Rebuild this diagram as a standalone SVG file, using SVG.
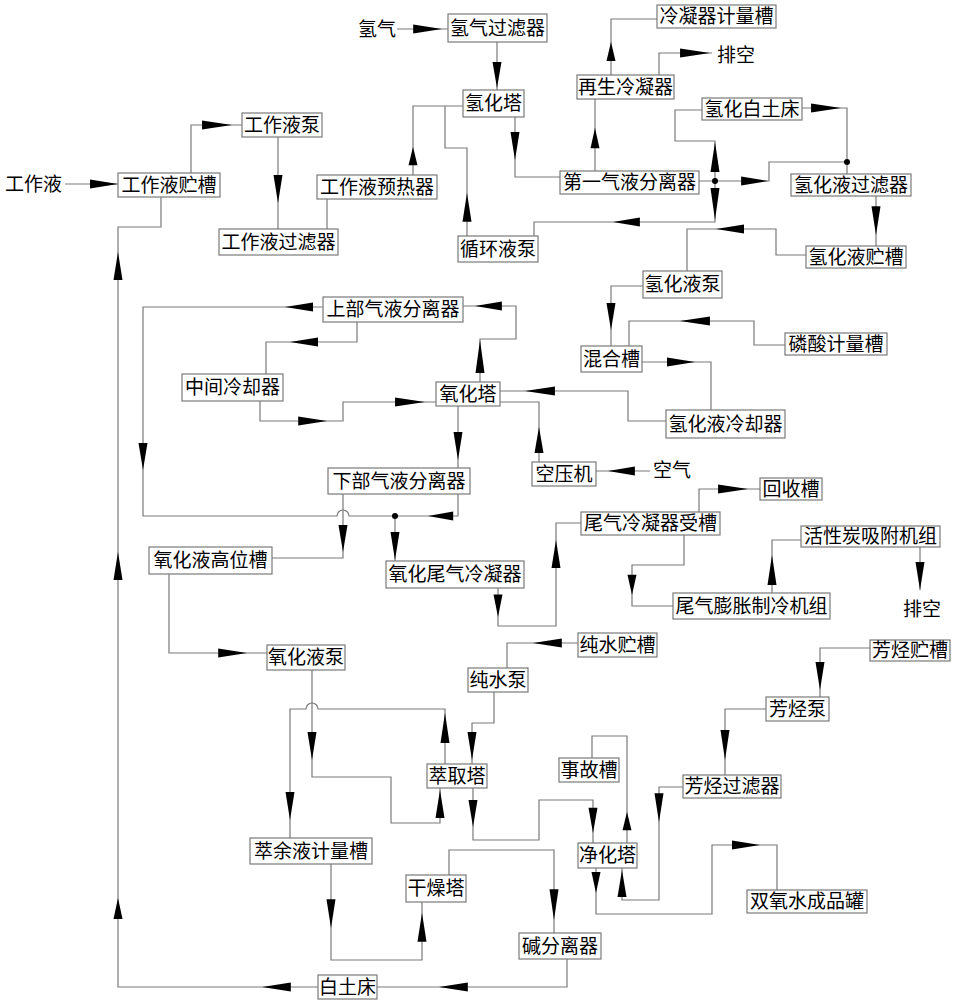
<svg xmlns="http://www.w3.org/2000/svg" xmlns:xlink="http://www.w3.org/1999/xlink" width="958" height="1000" viewBox="0 0 958 1000">
<style>
.b rect{fill:#fff;stroke:#7a7a7a;stroke-width:1.2}
.b text,.t{font-family:"Noto Sans CJK SC","Noto Sans CJK JP",sans-serif;font-size:19px;fill:#000}
.b text{text-anchor:middle}
#conn polyline,#conn path{fill:none;stroke:#7a7a7a;stroke-width:1.2}
.ah{fill:#000}
.dot{fill:#000}
</style>
<defs>
<path id="ah" d="M0,0 L-28,-4.5 L-28,4.5 Z"/>
</defs>
<rect width="958" height="1000" fill="#fff"/>
<g id="conn">
<polyline points="65,184 118,184"/>
<polyline points="191,173 191,125 242,125"/>
<polyline points="278,137 278,229"/>
<polyline points="327,229 327,199"/>
<polyline points="413,175 413,106 463,106"/>
<polyline points="467,236 467,148 445,148 445,106"/>
<polyline points="397,29 448,29"/>
<polyline points="497,42 497,90"/>
<polyline points="515,117 515,177 560,177"/>
<polyline points="595,171 595,99"/>
<polyline points="611,75 611,19 657,19"/>
<polyline points="659,75 659,53 712,53"/>
<polyline points="699,181 769,181 769,162 847,162 847,174"/>
<polyline points="715,181 715,141 675,141 675,110 702,110"/>
<polyline points="802,108 847,108 847,162"/>
<polyline points="715,181 715,222 534,222 534,236"/>
<polyline points="876,196 876,246"/>
<polyline points="806,255 776,255 776,229 687,229 687,271"/>
<polyline points="643,286 611,286 611,346"/>
<polyline points="785,345 754,345 754,321 629,321 629,346"/>
<polyline points="642,362 711,362 711,410"/>
<polyline points="666,421 628,421 628,391 500,391"/>
<polyline points="650,471 596,471"/>
<polyline points="539,462 539,402 500,402"/>
<polyline points="480,382 480,339 516,339 516,306 463,306"/>
<path d="M323,307 H143 V516 H337 A6,6 0 0 1 349,516 H395"/>
<polyline points="458,494 458,516 395,516"/>
<polyline points="395,516 395,561"/>
<polyline points="357,322 357,342 266,342 266,374"/>
<polyline points="260,401 260,421 343,421 343,402 436,402"/>
<polyline points="458,406 458,468"/>
<polyline points="343,494 343,558 272,558"/>
<polyline points="169,574 169,653 267,653"/>
<polyline points="498,588 498,626 556,626 556,523 581,523"/>
<polyline points="699,512 699,489 760,489"/>
<polyline points="684,535 684,565 632,565 632,606 673,606"/>
<polyline points="772,593 772,540 801,540"/>
<polyline points="920,547 920,590"/>
<polyline points="870,648 820,648 820,697"/>
<polyline points="766,709 725,709 725,775"/>
<polyline points="683,787 659,787 659,900 622,900 622,868"/>
<polyline points="596,868 596,914 712,914 712,845 777,845 777,890"/>
<polyline points="627,843 627,736 592,736 592,758"/>
<polyline points="578,643 507,643 507,668"/>
<polyline points="494,692 494,723 472,723 472,764"/>
<polyline points="312,670 312,777 391,777 391,823 440,823 440,788"/>
<path d="M445,764 V709 H318 A6,6 0 0 0 306,709 H290 V838"/>
<polyline points="473,788 473,840 539,840 539,800 593,800 593,843"/>
<polyline points="331,864 331,960 422,960 422,902"/>
<polyline points="449,875 449,850 554,850 554,933"/>
<polyline points="567,959 567,987 377,987"/>
<polyline points="318,987 118,987 118,227 161,227 161,197"/>
<circle class="dot" cx="715" cy="181" r="3"/>
<circle class="dot" cx="847" cy="162" r="3"/>
<circle class="dot" cx="395" cy="516" r="3"/>
<g class="ah">
<use xlink:href="#ah" transform="translate(118,184)"/>
<use xlink:href="#ah" transform="translate(232,125) scale(1.07,1)"/>
<use xlink:href="#ah" transform="translate(278,203) rotate(90)"/>
<use xlink:href="#ah" transform="translate(413,147) rotate(-90) scale(0.65,1)"/>
<use xlink:href="#ah" transform="translate(467,193) rotate(-90) scale(1.03,1)"/>
<use xlink:href="#ah" transform="translate(442,29) scale(1.03,1)"/>
<use xlink:href="#ah" transform="translate(497,88) rotate(90) scale(0.93,1)"/>
<use xlink:href="#ah" transform="translate(515,160) rotate(90)"/>
<use xlink:href="#ah" transform="translate(595,128) rotate(-90) scale(0.72,1)"/>
<use xlink:href="#ah" transform="translate(611,42) rotate(-90) scale(0.68,1)"/>
<use xlink:href="#ah" transform="translate(710,53) scale(1.07,1)"/>
<use xlink:href="#ah" transform="translate(768,181) scale(0.96,1)"/>
<use xlink:href="#ah" transform="translate(715,142) rotate(-90) scale(1.07,1)"/>
<use xlink:href="#ah" transform="translate(841,108) scale(1.07,1)"/>
<use xlink:href="#ah" transform="translate(715,220) rotate(90) scale(1.14,1)"/>
<use xlink:href="#ah" transform="translate(613,222) rotate(180) scale(0.96,1)"/>
<use xlink:href="#ah" transform="translate(876,235) rotate(90) scale(1.03,1)"/>
<use xlink:href="#ah" transform="translate(716,229) rotate(180)"/>
<use xlink:href="#ah" transform="translate(611,330) rotate(90) scale(0.96,1)"/>
<use xlink:href="#ah" transform="translate(680,321) rotate(180) scale(1.07,1)"/>
<use xlink:href="#ah" transform="translate(695,362)"/>
<use xlink:href="#ah" transform="translate(525,391) rotate(180) scale(1.07,1)"/>
<use xlink:href="#ah" transform="translate(608,471) rotate(180) scale(0.96,1)"/>
<use xlink:href="#ah" transform="translate(539,427) rotate(-90) scale(0.93,1)"/>
<use xlink:href="#ah" transform="translate(480,340) rotate(-90) scale(1.18,1)"/>
<use xlink:href="#ah" transform="translate(475,306) rotate(180) scale(0.96,1)"/>
<use xlink:href="#ah" transform="translate(285,307) rotate(180)"/>
<use xlink:href="#ah" transform="translate(143,470) rotate(90) scale(0.96,1)"/>
<use xlink:href="#ah" transform="translate(428,516) rotate(180) scale(0.9,1)"/>
<use xlink:href="#ah" transform="translate(395,560) rotate(90)"/>
<use xlink:href="#ah" transform="translate(290,342) rotate(180)"/>
<use xlink:href="#ah" transform="translate(327,421) scale(1.03,1)"/>
<use xlink:href="#ah" transform="translate(425,402) scale(1.07,1)"/>
<use xlink:href="#ah" transform="translate(458,460) rotate(90)"/>
<use xlink:href="#ah" transform="translate(343,552) rotate(90) scale(0.96,1)"/>
<use xlink:href="#ah" transform="translate(247,653) scale(1.03,1)"/>
<use xlink:href="#ah" transform="translate(498,617) rotate(90) scale(0.8,1)"/>
<use xlink:href="#ah" transform="translate(556,540) rotate(-90)"/>
<use xlink:href="#ah" transform="translate(748,489) scale(1.07,1)"/>
<use xlink:href="#ah" transform="translate(632,595) rotate(90) scale(0.72,1)"/>
<use xlink:href="#ah" transform="translate(772,555) rotate(-90) scale(1.07,1)"/>
<use xlink:href="#ah" transform="translate(920,590) rotate(90)"/>
<use xlink:href="#ah" transform="translate(820,690) rotate(90)"/>
<use xlink:href="#ah" transform="translate(725,760) rotate(90) scale(1.07,1)"/>
<use xlink:href="#ah" transform="translate(659,822) rotate(90) scale(1.03,1)"/>
<use xlink:href="#ah" transform="translate(622,870) rotate(-90) scale(0.96,1)"/>
<use xlink:href="#ah" transform="translate(596,893) rotate(90) scale(0.75,1)"/>
<use xlink:href="#ah" transform="translate(760,845)"/>
<use xlink:href="#ah" transform="translate(627,812) rotate(-90) scale(0.65,1)"/>
<use xlink:href="#ah" transform="translate(533,643) rotate(180) scale(1.03,1)"/>
<use xlink:href="#ah" transform="translate(472,760) rotate(90)"/>
<use xlink:href="#ah" transform="translate(312,760) rotate(90)"/>
<use xlink:href="#ah" transform="translate(440,790) rotate(-90)"/>
<use xlink:href="#ah" transform="translate(445,713) rotate(-90) scale(1.07,1)"/>
<use xlink:href="#ah" transform="translate(290,820) rotate(90)"/>
<use xlink:href="#ah" transform="translate(473,827) rotate(90) scale(0.96,1)"/>
<use xlink:href="#ah" transform="translate(593,833) rotate(90) scale(0.9,1)"/>
<use xlink:href="#ah" transform="translate(331,928) rotate(90) scale(1.03,1)"/>
<use xlink:href="#ah" transform="translate(422,913) rotate(-90) scale(1.03,1)"/>
<use xlink:href="#ah" transform="translate(554,920) rotate(90) scale(1.1,1)"/>
<use xlink:href="#ah" transform="translate(439,987) rotate(180) scale(1.03,1)"/>
<use xlink:href="#ah" transform="translate(262,987) rotate(180) scale(1.03,1)"/>
<use xlink:href="#ah" transform="translate(118,898) rotate(-90) scale(0.75,1)"/>
<use xlink:href="#ah" transform="translate(118,552) rotate(-90)"/>
<use xlink:href="#ah" transform="translate(118,252) rotate(-90)"/>
</g>
</g>
<text class="t" x="5" y="191">工作液</text>
<text class="t" x="358" y="36">氢气</text>
<text class="t" x="717" y="62">排空</text>
<text class="t" x="653" y="477">空气</text>
<text class="t" x="903" y="616">排空</text>
<g id="n1" class="b"><rect x="118" y="173" width="102" height="24"/><text x="169" y="192">工作液贮槽</text></g>
<g id="n2" class="b"><rect x="242" y="113" width="80" height="24"/><text x="282" y="132">工作液泵</text></g>
<g id="n3" class="b"><rect x="219" y="229" width="119" height="26"/><text x="278.5" y="249">工作液过滤器</text></g>
<g id="n4" class="b"><rect x="317" y="175" width="120" height="24"/><text x="377" y="194">工作液预热器</text></g>
<g id="n5" class="b"><rect x="448" y="14" width="99" height="28"/><text x="497.5" y="35">氢气过滤器</text></g>
<g id="n6" class="b"><rect x="463" y="90" width="61" height="27"/><text x="493.5" y="110">氢化塔</text></g>
<g id="n7" class="b"><rect x="458" y="236" width="80" height="26"/><text x="498" y="256">循环液泵</text></g>
<g id="n8" class="b"><rect x="560" y="171" width="139" height="23"/><text x="629.5" y="189">第一气液分离器</text></g>
<g id="n9" class="b"><rect x="577" y="75" width="97" height="24"/><text x="625.5" y="94">再生冷凝器</text></g>
<g id="n10" class="b"><rect x="657" y="5" width="119" height="23"/><text x="716.5" y="23">冷凝器计量槽</text></g>
<g id="n11" class="b"><rect x="702" y="98" width="100" height="22"/><text x="752" y="116">氢化白土床</text></g>
<g id="n12" class="b"><rect x="791" y="174" width="120" height="22"/><text x="851" y="192">氢化液过滤器</text></g>
<g id="n13" class="b"><rect x="806" y="246" width="100" height="22"/><text x="856" y="264">氢化液贮槽</text></g>
<g id="n14" class="b"><rect x="643" y="271" width="79" height="27"/><text x="682.5" y="291">氢化液泵</text></g>
<g id="n15" class="b"><rect x="581" y="346" width="61" height="26"/><text x="611.5" y="366">混合槽</text></g>
<g id="n16" class="b"><rect x="785" y="333" width="102" height="22"/><text x="836" y="351">磷酸计量槽</text></g>
<g id="n17" class="b"><rect x="666" y="410" width="119" height="28"/><text x="725.5" y="431">氢化液冷却器</text></g>
<g id="n18" class="b"><rect x="323" y="297" width="140" height="25"/><text x="393" y="316">上部气液分离器</text></g>
<g id="n19" class="b"><rect x="182" y="374" width="101" height="27"/><text x="232.5" y="394">中间冷却器</text></g>
<g id="n20" class="b"><rect x="436" y="382" width="64" height="24"/><text x="468" y="401">氧化塔</text></g>
<g id="n21" class="b"><rect x="532" y="462" width="64" height="24"/><text x="564" y="481">空压机</text></g>
<g id="n22" class="b"><rect x="328" y="468" width="142" height="26"/><text x="399" y="488">下部气液分离器</text></g>
<g id="n23" class="b"><rect x="149" y="547" width="123" height="27"/><text x="210.5" y="567">氧化液高位槽</text></g>
<g id="n24" class="b"><rect x="386" y="561" width="138" height="27"/><text x="455" y="581">氧化尾气冷凝器</text></g>
<g id="n25" class="b"><rect x="581" y="512" width="139" height="23"/><text x="650.5" y="530">尾气冷凝器受槽</text></g>
<g id="n26" class="b"><rect x="760" y="478" width="62" height="22"/><text x="791" y="496">回收槽</text></g>
<g id="n27" class="b"><rect x="801" y="526" width="139" height="21"/><text x="870.5" y="543">活性炭吸附机组</text></g>
<g id="n28" class="b"><rect x="673" y="593" width="157" height="26"/><text x="751.5" y="613">尾气膨胀制冷机组</text></g>
<g id="n29" class="b"><rect x="870" y="640" width="80" height="21"/><text x="910" y="657">芳烃贮槽</text></g>
<g id="n30" class="b"><rect x="267" y="645" width="78" height="25"/><text x="306" y="664">氧化液泵</text></g>
<g id="n31" class="b"><rect x="578" y="633" width="79" height="24"/><text x="617.5" y="652">纯水贮槽</text></g>
<g id="n32" class="b"><rect x="468" y="668" width="60" height="24"/><text x="498" y="687">纯水泵</text></g>
<g id="n33" class="b"><rect x="766" y="697" width="63" height="24"/><text x="797.5" y="716">芳烃泵</text></g>
<g id="n34" class="b"><rect x="427" y="764" width="60" height="24"/><text x="457" y="783">萃取塔</text></g>
<g id="n35" class="b"><rect x="559" y="758" width="60" height="24"/><text x="589" y="777">事故槽</text></g>
<g id="n36" class="b"><rect x="683" y="775" width="98" height="23"/><text x="732" y="793">芳烃过滤器</text></g>
<g id="n37" class="b"><rect x="578" y="843" width="59" height="25"/><text x="607.5" y="862">净化塔</text></g>
<g id="n38" class="b"><rect x="250" y="838" width="122" height="26"/><text x="311" y="858">萃余液计量槽</text></g>
<g id="n39" class="b"><rect x="406" y="875" width="60" height="27"/><text x="436" y="895">干燥塔</text></g>
<g id="n40" class="b"><rect x="747" y="890" width="120" height="23"/><text x="807" y="908">双氧水成品罐</text></g>
<g id="n41" class="b"><rect x="519" y="933" width="82" height="26"/><text x="560" y="953">碱分离器</text></g>
<g id="n42" class="b"><rect x="318" y="975" width="59" height="24"/><text x="347.5" y="994">白土床</text></g>
</svg>
